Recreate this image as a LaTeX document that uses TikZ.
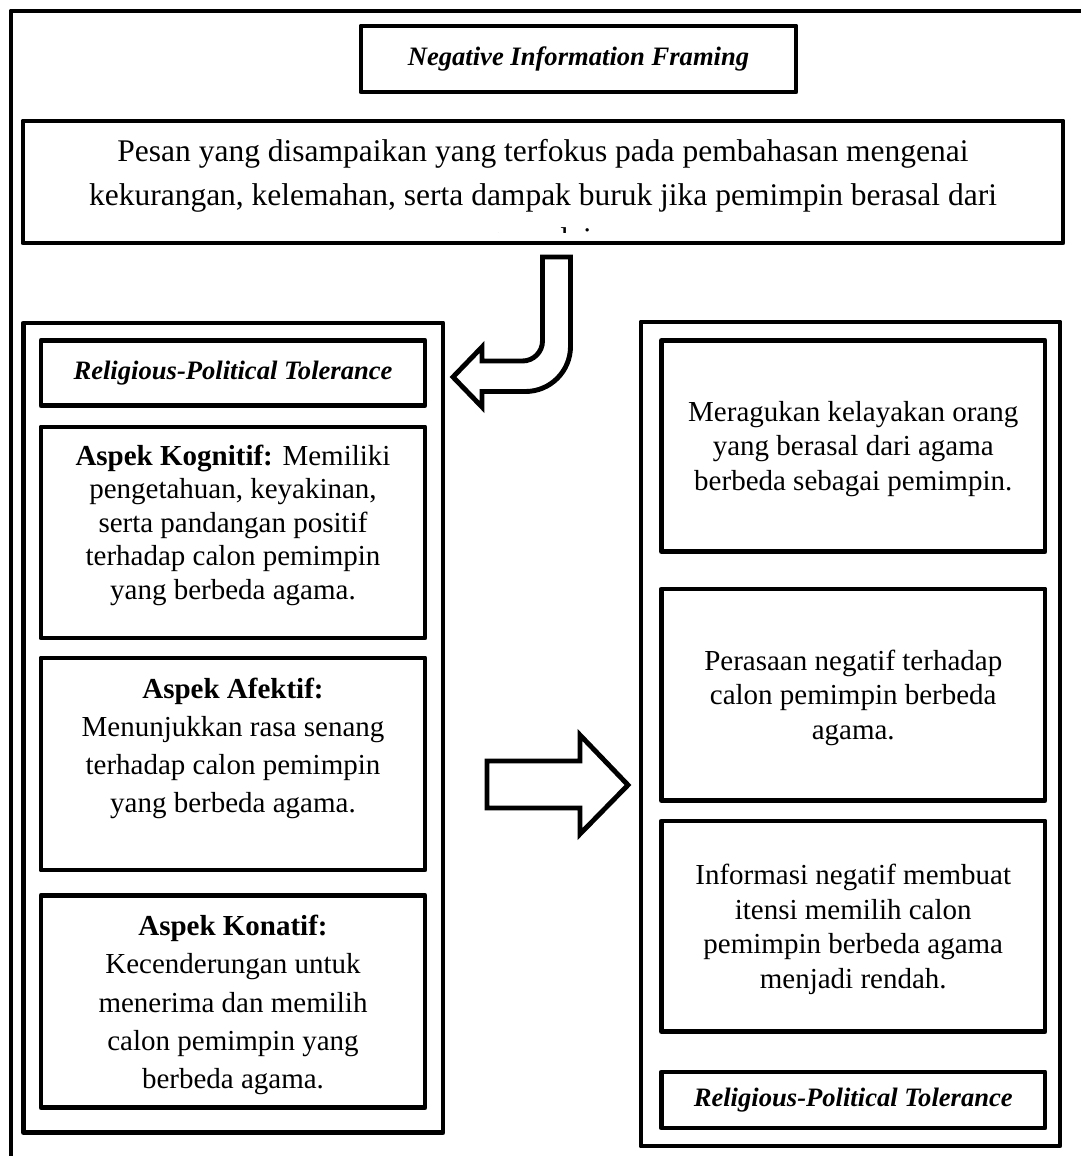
\documentclass[tikz,border=0pt]{standalone}
\usepackage{fontspec}
\setmainfont{Liberation Serif}
\begin{document}
\begin{tikzpicture}[x=1pt,y=-1pt,line width=4.9pt,
  box/.style={draw,line join=round,inner sep=0pt},
  bodyA/.style={font=\fontsize{29}{33.5}\selectfont,align=center,inner sep=0pt},
  bodyB/.style={font=\fontsize{29}{38.2}\selectfont,align=center,inner sep=0pt},
  bodyC/.style={font=\fontsize{29}{34.5}\selectfont,align=center,inner sep=0pt},
  headtext/.style={font=\fontsize{26.6}{30}\selectfont\bfseries\itshape},
  desctext/.style={font=\fontsize{31.5}{44}\selectfont,align=center,inner sep=0pt},
  blockarrow/.style={draw,line join=miter,miter limit=20}]
\useasboundingbox (0,0) rectangle (1081,1156);
\clip (0,0) rectangle (1081,1156);
% outer frame (cut by page edges)
\draw[line join=round] (11,11) rectangle (1200,1300);
% title
\node[box,minimum width=435pt,minimum height=66pt,headtext] (title) at (578.5,59) {Negative Information Framing};
% description box
\node[box,minimum width=1040pt,minimum height=122pt] (desc) at (543,182) {};
\begin{scope}
  \clip (25,123) rectangle (1061,232);
  \node[desctext] (desctxt) at (543,198) {Pesan yang disampaikan yang terfokus pada pembahasan mengenai\\kekurangan, kelemahan, serta dampak buruk jika pemimpin berasal dari\\agama lain.};
\end{scope}
% left group
\node[box,minimum width=419.5pt,minimum height=809.5pt] (leftgrp) at (233.25,727.75) {};
\node[box,minimum width=384pt,minimum height=65pt,headtext] (ltitle) at (233,373) {Religious-Political Tolerance};
\node[box,minimum width=384pt,minimum height=211pt] (kog) at (233,532.5) {};
\node[bodyA] (kogtxt) at (233,525) {\textbf{Aspek Kognitif:} Memiliki\\pengetahuan, keyakinan,\\serta pandangan positif\\terhadap calon pemimpin\\yang berbeda agama.};
\node[box,minimum width=384pt,minimum height=212pt] (afe) at (233,764) {};
\node[bodyB] (afetxt) at (233,748.5) {\textbf{Aspek Afektif:}\\Menunjukkan rasa senang\\terhadap calon pemimpin\\yang berbeda agama.};
\node[box,minimum width=384pt,minimum height=212pt] (kon) at (233,1001.5) {};
\node[bodyB] (kontxt) at (233,1005) {\textbf{Aspek Konatif:}\\Kecenderungan untuk\\menerima dan memilih\\calon pemimpin yang\\berbeda agama.};
% right group
\node[box,minimum width=419pt,minimum height=824pt] (rightgrp) at (850.5,734) {};
\node[box,minimum width=383.5pt,minimum height=211pt] (mer) at (853.25,446) {};
\node[bodyC] (mertxt) at (853.25,449) {Meragukan kelayakan orang\\yang berasal dari agama\\berbeda sebagai pemimpin.};
\node[box,minimum width=383.5pt,minimum height=211.5pt] (per) at (853.25,694.75) {};
\node[bodyC] (pertxt) at (853.25,697.5) {Perasaan negatif terhadap\\calon pemimpin berbeda\\agama.};
\node[box,minimum width=383.5pt,minimum height=210.5pt] (inf) at (853.25,926.25) {};
\node[bodyC] (inftxt) at (853.25,929.25) {Informasi negatif membuat\\itensi memilih calon\\pemimpin berbeda agama\\menjadi rendah.};
\node[box,minimum width=383.5pt,minimum height=56pt,headtext] (rtitle) at (853.25,1100) {Religious-Political Tolerance};
% curved block arrow
\draw[blockarrow] (542.5,257) -- (570.5,257) -- (570.5,346.5)
  .. controls (570.5,371.3) and (550.3,391.5) .. (525.5,391.5)
  -- (482,391.5) -- (482,407) -- (453,377) -- (482,347) -- (482,361) -- (522.5,361)
  .. controls (533.5,361) and (542.5,352) .. (542.5,341) -- cycle;
% right block arrow
\draw[blockarrow] (487,761) -- (580,761) -- (580,735) -- (628,785) -- (580,834) -- (580,808) -- (487,808) -- cycle;
\end{tikzpicture}
\end{document}
